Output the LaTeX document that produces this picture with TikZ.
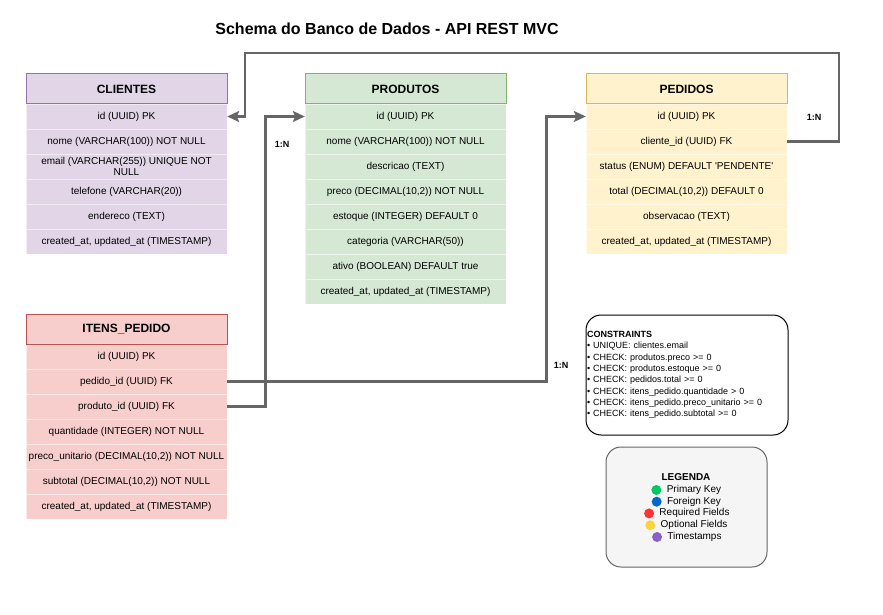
\documentclass[tikz,border=0pt]{standalone}
\usepackage{fontspec}
\setmainfont{Liberation Sans}
\usetikzlibrary{arrows.meta,positioning}

\definecolor{cliFill}{HTML}{E1D5E7}
\definecolor{cliLine}{HTML}{9673A6}
\definecolor{prodFill}{HTML}{D5E8D4}
\definecolor{prodLine}{HTML}{82B366}
\definecolor{pedFill}{HTML}{FFF2CC}
\definecolor{pedLine}{HTML}{D6B656}
\definecolor{itmFill}{HTML}{F8CECC}
\definecolor{itmLine}{HTML}{B85450}
\definecolor{relGray}{HTML}{666666}
\definecolor{lgdFill}{HTML}{F5F5F5}
\definecolor{pkColor}{HTML}{00C862}
\definecolor{fkColor}{HTML}{0066CC}
\definecolor{reqColor}{HTML}{FF3333}
\definecolor{optColor}{HTML}{FFD43B}
\definecolor{tsColor}{HTML}{8A63C8}

\begin{document}
\begin{tikzpicture}[x=1pt,y=-1pt,
  hdr/.style={draw, line width=1pt, minimum width=201pt, minimum height=30pt, inner sep=0pt, font=\fontsize{12}{14}\selectfont\bfseries},
  row/.style={draw=white, draw opacity=0.55, minimum width=201pt, minimum height=25pt, inner sep=0pt, align=center, font=\fontsize{10}{11.5}\selectfont},
  rel/.style={draw=relGray, line width=2.2pt, -{Stealth[length=12pt,width=11pt,inset=2.5pt]}},
  card/.style={font=\fontsize{9}{11}\selectfont\bfseries},
  lgd/.style={inner sep=0pt, font=\fontsize{10}{12}\selectfont},
  dot/.style={circle, minimum size=10pt, inner sep=0pt}]
\useasboundingbox (0,0) rectangle (883,615);

\path (387,29) node[font=\fontsize{16}{19}\selectfont\bfseries] (title) {Schema do Banco de Dados - API REST MVC};

% clientes
\path (126.5,116.5) node[row,fill=cliFill] (cli1) {id (UUID) PK};
\path (126.5,141.5) node[row,fill=cliFill] (cli2) {nome (VARCHAR(100)) NOT NULL};
\path (126.5,166.5) node[row,fill=cliFill] (cli3) {email (VARCHAR(255)) UNIQUE NOT\\NULL};
\path (126.5,191.5) node[row,fill=cliFill] (cli4) {telefone (VARCHAR(20))};
\path (126.5,216.5) node[row,fill=cliFill] (cli5) {endereco (TEXT)};
\path (126.5,241.5) node[row,fill=cliFill] (cli6) {created\_at, updated\_at (TIMESTAMP)};
\path (126.5,89) node[hdr,fill=cliFill,draw=cliLine] (cli) {CLIENTES};

% produtos
\path (405.5,116.5) node[row,fill=prodFill] (prod1) {id (UUID) PK};
\path (405.5,141.5) node[row,fill=prodFill] (prod2) {nome (VARCHAR(100)) NOT NULL};
\path (405.5,166.5) node[row,fill=prodFill] (prod3) {descricao (TEXT)};
\path (405.5,191.5) node[row,fill=prodFill] (prod4) {preco (DECIMAL(10,2)) NOT NULL};
\path (405.5,216.5) node[row,fill=prodFill] (prod5) {estoque (INTEGER) DEFAULT 0};
\path (405.5,241.5) node[row,fill=prodFill] (prod6) {categoria (VARCHAR(50))};
\path (405.5,266.5) node[row,fill=prodFill] (prod7) {ativo (BOOLEAN) DEFAULT true};
\path (405.5,291.5) node[row,fill=prodFill] (prod8) {created\_at, updated\_at (TIMESTAMP)};
\path (405.5,89) node[hdr,fill=prodFill,draw=prodLine] (prod) {PRODUTOS};

% pedidos
\path (686.5,116.5) node[row,fill=pedFill] (ped1) {id (UUID) PK};
\path (686.5,141.5) node[row,fill=pedFill] (ped2) {cliente\_id (UUID) FK};
\path (686.5,166.5) node[row,fill=pedFill] (ped3) {status (ENUM) DEFAULT \textquotesingle PENDENTE\textquotesingle};
\path (686.5,191.5) node[row,fill=pedFill] (ped4) {total (DECIMAL(10,2)) DEFAULT 0};
\path (686.5,216.5) node[row,fill=pedFill] (ped5) {observacao (TEXT)};
\path (686.5,241.5) node[row,fill=pedFill] (ped6) {created\_at, updated\_at (TIMESTAMP)};
\path (686.5,89) node[hdr,fill=pedFill,draw=pedLine] (ped) {PEDIDOS};

% itens_pedido
\path (126.5,356.5) node[row,fill=itmFill] (itm1) {id (UUID) PK};
\path (126.5,381.5) node[row,fill=itmFill] (itm2) {pedido\_id (UUID) FK};
\path (126.5,406.5) node[row,fill=itmFill] (itm3) {produto\_id (UUID) FK};
\path (126.5,431.5) node[row,fill=itmFill] (itm4) {quantidade (INTEGER) NOT NULL};
\path (126.5,456.5) node[row,fill=itmFill] (itm5) {preco\_unitario (DECIMAL(10,2)) NOT NULL};
\path (126.5,481.5) node[row,fill=itmFill] (itm6) {subtotal (DECIMAL(10,2)) NOT NULL};
\path (126.5,506.5) node[row,fill=itmFill] (itm7) {created\_at, updated\_at (TIMESTAMP)};
\path (126.5,329) node[hdr,fill=itmFill,draw=itmLine] (itm) {ITENS\_PEDIDO};

% relacoes
\coordinate (loopR) at (839,53);
\coordinate (loopL) at (245,53);
\coordinate (jProd) at (265.5,0);
\coordinate (jPed) at (546.5,0);
\draw[rel] (ped2.east) -- (ped2.east -| loopR) -- (loopR) -- (loopL) -- (loopL |- cli1.east) -- (cli1.east);
\draw[rel] (itm3.east) -| (jProd |- prod1.west) -- (prod1.west);
\draw[rel] (itm2.east) -| (jPed |- ped1.west) -- (ped1.west);
\path (814,117) node[card] (cardCli) {1:N};
\path (282,144) node[card] (cardProd) {1:N};
\path (561,365) node[card] (cardPed) {1:N};

% constraints
\path (687,375) node[draw, line width=1pt, rounded corners=15pt, minimum width=202pt, minimum height=120pt,
  text width=200pt, inner sep=1pt, align=left, font=\fontsize{9}{11.3}\selectfont] (cons) {%
  \textbf{CONSTRAINTS}\\
  \textbullet{} UNIQUE: clientes.email\\
  \textbullet{} CHECK: produtos.preco >= 0\\
  \textbullet{} CHECK: produtos.estoque >= 0\\
  \textbullet{} CHECK: pedidos.total >= 0\\
  \textbullet{} CHECK: itens\_pedido.quantidade > 0\\
  \textbullet{} CHECK: itens\_pedido.preco\_unitario >= 0\\
  \textbullet{} CHECK: itens\_pedido.subtotal >= 0};

% legenda
\path (686.5,507) node[draw=relGray, fill=lgdFill, line width=1pt, rounded corners=15pt, minimum width=161pt, minimum height=120pt] (lgdBox) {};
\path (686,477) node[lgd, font=\fontsize{10}{12}\selectfont\bfseries] (lgdTitle) {LEGENDA};
\path (694,490) node[lgd] (lgdPk) {Primary Key};
\path (694,501.7) node[lgd] (lgdFk) {Foreign Key};
\path (694.5,513.4) node[lgd] (lgdReq) {Required Fields};
\path (694,525.2) node[lgd] (lgdOpt) {Optional Fields};
\path (694.5,537) node[lgd] (lgdTs) {Timestamps};
\node[dot, fill=pkColor, left=5pt of lgdPk] (dotPk) {};
\node[dot, fill=fkColor, left=5pt of lgdFk] (dotFk) {};
\node[dot, fill=reqColor, left=5pt of lgdReq] (dotReq) {};
\node[dot, fill=optColor, left=5pt of lgdOpt] (dotOpt) {};
\node[dot, fill=tsColor, left=5pt of lgdTs] (dotTs) {};
\end{tikzpicture}
\end{document}
